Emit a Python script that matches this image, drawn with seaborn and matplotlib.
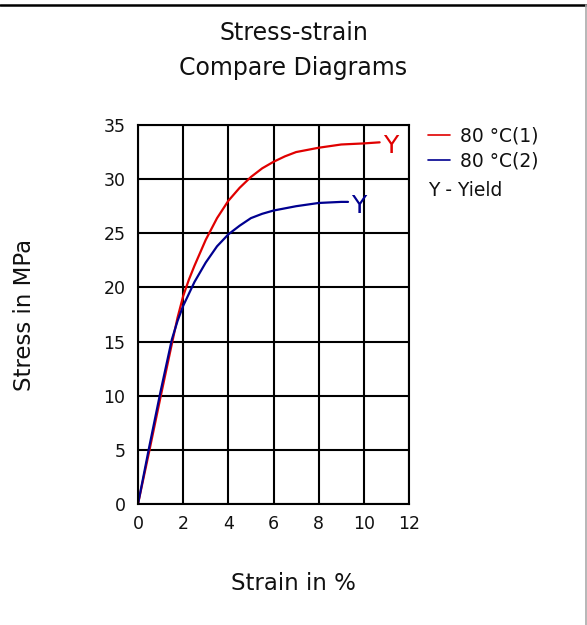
import matplotlib
matplotlib.use("Agg")
import matplotlib.pyplot as plt
from matplotlib.lines import Line2D
import seaborn as sns
import pandas as pd

# ---- data ----
series_names = ["80 °C(1)", "80 °C(2)"]
strain_1 = [0, 0.5, 1.0, 1.5, 1.75, 2.0, 2.25, 2.5, 3.0, 3.5, 4.0, 4.5, 5.0, 5.5, 6.0, 6.5, 7.0, 8.0, 9.0, 10.0, 10.7]
stress_1 = [0, 4.9, 9.9, 14.8, 17.2, 19.2, 20.7, 22.0, 24.4, 26.4, 28.0, 29.2, 30.2, 31.0, 31.6, 32.1, 32.5, 32.9, 33.2, 33.3, 33.4]
strain_2 = [0, 0.5, 1.0, 1.5, 1.75, 2.0, 2.5, 3.0, 3.5, 4.0, 4.5, 5.0, 5.5, 6.0, 6.5, 7.0, 8.0, 9.0, 9.3]
stress_2 = [0, 5.3, 10.4, 15.2, 16.9, 18.3, 20.5, 22.3, 23.8, 24.9, 25.7, 26.4, 26.8, 27.1, 27.3, 27.5, 27.8, 27.9, 27.9]
x_ticks = [0, 2, 4, 6, 8, 10, 12]
y_ticks = [0, 5, 10, 15, 20, 25, 30, 35]
colors = ["#e00000", "#000090"]

df = pd.concat([
    pd.DataFrame({"strain": strain_1, "stress": stress_1, "series": series_names[0]}),
    pd.DataFrame({"strain": strain_2, "stress": stress_2, "series": series_names[1]}),
], ignore_index=True)

sns.set_style("white")
plt.rcParams["font.family"] = ["DejaVu Sans"]

fig = plt.figure(figsize=(5.87, 6.25), dpi=100)
ax = fig.add_axes([138 / 587, 1 - 504 / 625, 271 / 587, 379 / 625])

sns.lineplot(data=df, x="strain", y="stress", hue="series", palette=colors,
             sort=False, estimator=None, linewidth=1.6, ax=ax, legend=False)

ax.set_xlim(0, 12)
ax.set_ylim(0, 35)
ax.set_xticks(x_ticks)
ax.set_yticks(y_ticks)
ax.grid(True, color="black", linewidth=1.5)
ax.set_axisbelow(True)
for s in ax.spines.values():
    s.set_visible(True)
    s.set_color("black")
    s.set_linewidth(1.5)
ax.tick_params(axis="both", length=0, labelsize=12.5, colors="#111111")
ax.tick_params(axis="y", pad=9)
ax.tick_params(axis="x", pad=8)

ax.set_xlabel("Strain in %", fontsize=16.5, color="#111111")
ax.xaxis.set_label_coords((293.5 - 138) / 271, -0.18)
ax.set_ylabel("Stress in MPa", fontsize=16.5, color="#111111")
ax.yaxis.set_label_coords(-0.378, 0.5)

# yield markers
for sx, sy, c in [(strain_1, stress_1, colors[0]), (strain_2, stress_2, colors[1])]:
    ax.annotate("Y", xy=(sx[-1], sy[-1]), xytext=(2.5, -8), textcoords="offset points",
                ha="left", va="baseline", color=c, fontsize=18, annotation_clip=False)

handles = [Line2D([0], [0], color=c, lw=1.2) for c in colors]
leg = ax.legend(handles, series_names, loc="upper left", bbox_to_anchor=(1.07, 0.995),
                frameon=False, fontsize=13.5, handlelength=1.2, handletextpad=0.5,
                labelspacing=0.28, borderpad=0, borderaxespad=0)
for t in leg.get_texts():
    t.set_color("#111111")
fig.text(428 / 587, 1 - 190 / 625, "Y - Yield", fontsize=13.5, ha="left", va="center",
         color="#111111")

fig.suptitle("Stress-strain\nCompare Diagrams", x=0.5, y=0.967, va="top",
             fontsize=17, linespacing=1.62, color="#111111")

# frame lines
fig.add_artist(Line2D([0, 1], [1 - 5 / 625] * 2, color="black", lw=1.8,
                      transform=fig.transFigure))
fig.add_artist(Line2D([585.5 / 587] * 2, [0, 1 - 5 / 625], color="#aaaaaa", lw=1.2,
                      transform=fig.transFigure))

fig.savefig("out.png", dpi=100)
